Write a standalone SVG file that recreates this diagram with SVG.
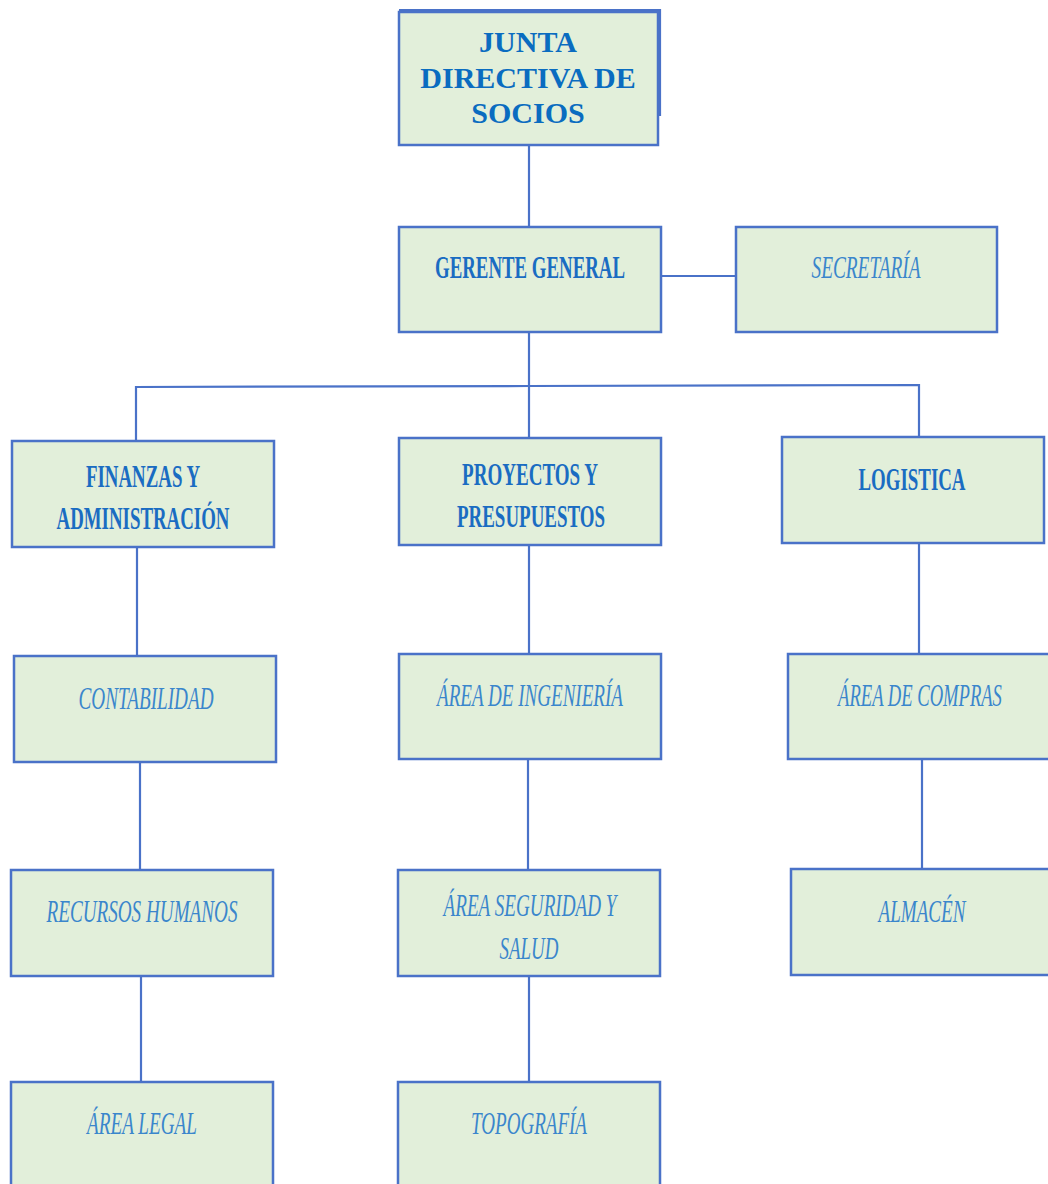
<svg xmlns="http://www.w3.org/2000/svg" width="1048" height="1184" viewBox="0 0 1048 1184">
  <style>
    .box { fill: #e2efda; stroke: #4a72c8; stroke-width: 2.5; }
    .fill { fill: #e2efda; stroke: none; }
    .link { stroke: #4a72c8; stroke-width: 2.2; fill: none; }
    .edge { stroke: #4a72c8; stroke-width: 2.5; fill: none; }
    .title { font-family: "Liberation Serif", "Times New Roman", serif; font-weight: bold; font-size: 30px; fill: #0a6cc0; text-anchor: middle; }
    .head { font-family: "Liberation Serif", "Times New Roman", serif; font-weight: bold; font-size: 31px; fill: #1a6cc2; text-anchor: middle; }
    .unit { font-family: "Liberation Serif", "Times New Roman", serif; font-style: italic; font-size: 31px; fill: #3a86cc; text-anchor: middle; }
  </style>

  <!-- connectors -->
  <g id="connectors">
    <line class="link" x1="529" y1="145" x2="529" y2="227"/>
    <line class="link" x1="661" y1="276" x2="736" y2="276"/>
    <line class="link" x1="529" y1="332" x2="529" y2="438"/>
    <polyline class="link" points="136,441 136,387 529,386 919,385 919,437"/>
    <line class="link" x1="137" y1="547" x2="137" y2="656"/>
    <line class="link" x1="529" y1="545" x2="529" y2="654"/>
    <line class="link" x1="919" y1="543" x2="919" y2="654"/>
    <line class="link" x1="140" y1="762" x2="140" y2="870"/>
    <line class="link" x1="528" y1="759" x2="528" y2="870"/>
    <line class="link" x1="922" y1="759" x2="922" y2="869"/>
    <line class="link" x1="141" y1="976" x2="141" y2="1082"/>
    <line class="link" x1="529" y1="976" x2="529" y2="1082"/>
  </g>

  <g id="junta">
    <polyline class="link" points="399,10 660,10 660,116"/>
    <rect class="box" x="399" y="12" width="259" height="133"/>
    <text class="title" x="528" y="52">JUNTA</text>
    <text class="title" x="528" y="88">DIRECTIVA DE</text>
    <text class="title" x="528" y="123">SOCIOS</text>
  </g>

  <g id="gerente">
    <rect class="box" x="399" y="227" width="262" height="105"/>
    <text class="head" x="530" y="278" textLength="190" lengthAdjust="spacingAndGlyphs">GERENTE GENERAL</text>
  </g>

  <g id="secretaria">
    <rect class="box" x="736" y="227" width="261" height="105"/>
    <text class="unit" x="866" y="278" textLength="109" lengthAdjust="spacingAndGlyphs">SECRETARÍA</text>
  </g>

  <g id="finanzas">
    <rect class="box" x="12" y="441" width="262" height="106"/>
    <text class="head" x="143" y="487" textLength="114" lengthAdjust="spacingAndGlyphs">FINANZAS Y</text>
    <text class="head" x="143" y="529" textLength="173" lengthAdjust="spacingAndGlyphs">ADMINISTRACIÓN</text>
  </g>

  <g id="proyectos">
    <rect class="box" x="399" y="438" width="262" height="107"/>
    <text class="head" x="530" y="485" textLength="136" lengthAdjust="spacingAndGlyphs">PROYECTOS Y</text>
    <text class="head" x="531" y="527" textLength="148" lengthAdjust="spacingAndGlyphs">PRESUPUESTOS</text>
  </g>

  <g id="logistica">
    <rect class="box" x="782" y="437" width="262" height="106"/>
    <text class="head" x="912" y="490" textLength="107" lengthAdjust="spacingAndGlyphs">LOGISTICA</text>
  </g>

  <g id="contabilidad">
    <rect class="box" x="14" y="656" width="262" height="106"/>
    <text class="unit" x="146" y="709" textLength="135" lengthAdjust="spacingAndGlyphs">CONTABILIDAD</text>
  </g>

  <g id="ingenieria">
    <rect class="box" x="399" y="654" width="262" height="105"/>
    <text class="unit" x="530" y="706" textLength="186" lengthAdjust="spacingAndGlyphs">ÁREA DE INGENIERÍA</text>
  </g>

  <!-- box runs past the right edge of the sheet: no right border -->
  <g id="compras">
    <rect class="fill" x="788" y="654" width="260" height="105"/>
    <path class="edge" d="M1048,654 H788 V759 H1048"/>
    <text class="unit" transform="translate(920,706) scale(0.6,1)" x="0" y="0">ÁREA DE COMPRAS</text>
  </g>

  <g id="rrhh">
    <rect class="box" x="11" y="870" width="262" height="106"/>
    <text class="unit" x="142" y="922" textLength="191" lengthAdjust="spacingAndGlyphs">RECURSOS HUMANOS</text>
  </g>

  <g id="seguridad">
    <rect class="box" x="398" y="870" width="262" height="106"/>
    <text class="unit" x="530" y="916" textLength="173" lengthAdjust="spacingAndGlyphs">ÁREA SEGURIDAD Y</text>
    <text class="unit" x="529" y="959" textLength="59" lengthAdjust="spacingAndGlyphs">SALUD</text>
  </g>

  <g id="almacen">
    <rect class="fill" x="791" y="869" width="257" height="106"/>
    <path class="edge" d="M1048,869 H791 V975 H1048"/>
    <text class="unit" x="922" y="922" textLength="87" lengthAdjust="spacingAndGlyphs">ALMACÉN</text>
  </g>

  <!-- bottom row runs past the lower edge of the sheet -->
  <g id="legal">
    <rect class="fill" x="11" y="1082" width="262" height="102"/>
    <path class="edge" d="M11,1184 V1082 H273 V1184"/>
    <text class="unit" x="142" y="1134" textLength="110" lengthAdjust="spacingAndGlyphs">ÁREA LEGAL</text>
  </g>

  <g id="topografia">
    <rect class="fill" x="398" y="1082" width="262" height="102"/>
    <path class="edge" d="M398,1184 V1082 H660 V1184"/>
    <text class="unit" x="529" y="1134" textLength="116" lengthAdjust="spacingAndGlyphs">TOPOGRAFÍA</text>
  </g>
</svg>
